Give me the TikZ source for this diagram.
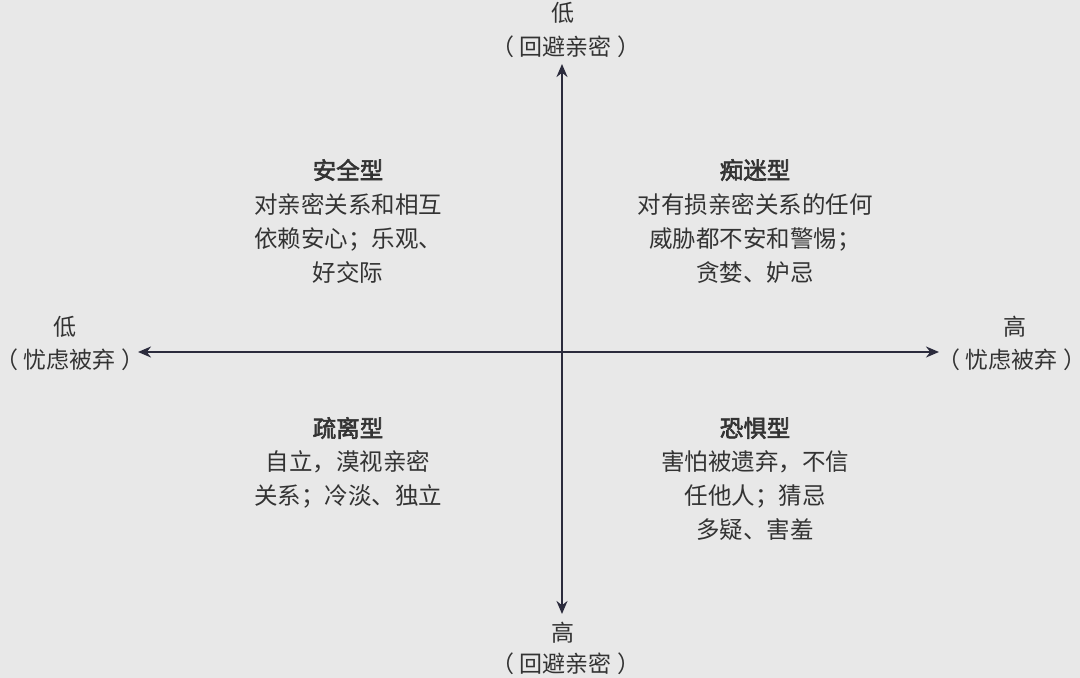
\documentclass[tikz,border=0pt]{standalone}
\usepackage{fontspec}
\newfontfamily\cjk{Noto Sans CJK SC}[AutoFakeBold=2.5]
\usetikzlibrary{arrows.meta}
\definecolor{bg}{HTML}{E8E8E8}
\definecolor{tx}{HTML}{333333}
\definecolor{ax}{HTML}{2B2B3C}
\begin{document}
\begin{tikzpicture}[x=1pt,y=-1pt,
  lbl/.style={font=\cjk\fontsize{23}{28}\selectfont,text=tx,inner sep=0pt},
  ttl/.style={font=\cjk\bfseries\fontsize{23.5}{28}\selectfont,text=tx,inner sep=0pt},
  desc/.style={font=\cjk\fontsize{23.5}{34}\selectfont,text=tx,inner sep=0pt,align=center,anchor=north},
  axis/.style={draw=ax,line width=2.4pt,-{Stealth[length=13pt,width=11pt]}}]
\fill[bg] (0,0) rectangle (1080,678);
\useasboundingbox (0,0) rectangle (1080,678);
\coordinate (c) at (562,352);
\coordinate (top) at (562,64);
\coordinate (bot) at (562,614);
\coordinate (lft) at (138,352);
\coordinate (rgt) at (939,352);
\draw[axis] (c) -- (top);
\draw[axis] (c) -- (bot);
\draw[axis] (c) -- (lft);
\draw[axis] (c) -- (rgt);
\node[lbl] (t1) at (563,13) {低};
\node[lbl] (t2) at (566,47) {（ 回避亲密 ）};
\node[lbl] (b1) at (563,633) {高};
\node[lbl] (b2) at (566,664) {（ 回避亲密 ）};
\node[lbl] (l1) at (65,327) {低};
\node[lbl] (l2) at (70,360) {（ 忧虑被弃 ）};
\node[lbl] (r1) at (1015,327) {高};
\node[lbl] (r2) at (1012,360) {（ 忧虑被弃 ）};
\node[ttl] (q1) at (348,170) {安全型};
\node[desc] (d1) at (348,193) {对亲密关系和相互\\依赖安心；乐观、\\好交际};
\node[ttl] (q2) at (755,170) {痴迷型};
\node[desc] (d2) at (755,193) {对有损亲密关系的任何\\威胁都不安和警惕；\\贪婪、妒忌};
\node[ttl] (q3) at (348,428) {疏离型};
\node[desc] (d3) at (348,450) {自立，漠视亲密\\关系；冷淡、独立};
\node[ttl] (q4) at (755,428) {恐惧型};
\node[desc] (d4) at (755,450) {害怕被遗弃，不信\\任他人；猜忌\\多疑、害羞};
\end{tikzpicture}
\end{document}
